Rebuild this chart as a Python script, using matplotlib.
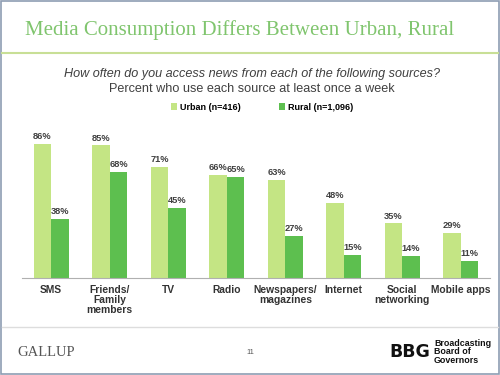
import matplotlib.pyplot as plt
import numpy as np
from matplotlib.patches import Rectangle
from matplotlib.lines import Line2D

plt.rcParams['font.family'] = ['Liberation Sans', 'DejaVu Sans']

# Datos del grafico
categorias = ['SMS', 'Friends/\nFamily\nmembers', 'TV', 'Radio',
              'Newspapers/\nmagazines', 'Internet', 'Social\nnetworking', 'Mobile apps']
urbano = [86, 85, 71, 66, 63, 48, 35, 29]
rural = [38, 68, 45, 65, 27, 15, 14, 11]
series = ['Urban (n=416)', 'Rural (n=1,096)']

verde_claro = '#c4e584'
verde = '#5dbf4f'
gris = '#404040'

fig = plt.figure(figsize=(5, 3.75), dpi=100)
fig.patch.set_facecolor('white')

# Marco de la diapositiva
fig.patches.append(Rectangle((0.002, 0.003), 0.996, 0.994, transform=fig.transFigure,
                             fill=False, edgecolor='#8d9db3', linewidth=1.2))

# Titulo y linea verde
fig.text(0.05, 1 - 30/375, 'Media Consumption Differs Between Urban, Rural',
         family='Liberation Serif', fontsize=15, color='#80c56e', va='center')
fig.lines.append(Line2D([0.004, 0.996], [1 - 53/375, 1 - 53/375], transform=fig.transFigure,
                        color='#c8df96', linewidth=1.5))

# Subtitulo
fig.text(0.503, 1 - 74/375, 'How often do you access news from each of the following sources?',
         fontsize=9.1, style='italic', color=gris, ha='center', va='center')
fig.text(0.503, 1 - 89/375, 'Percent who use each source at least once a week',
         fontsize=9.1, color=gris, ha='center', va='center')

# Ejes
ax = fig.add_axes([0.044, 1 - 278/375, 0.936, 156/375])
x = np.arange(len(categorias))
ancho = 0.3
b1 = ax.bar(x - ancho/2, urbano, ancho, color=verde_claro, label=series[0])
b2 = ax.bar(x + ancho/2, rural, ancho, color=verde, label=series[1])
ax.bar_label(b1, fmt='%d%%', fontsize=6.7, fontweight='bold', color=gris, padding=2)
ax.bar_label(b2, fmt='%d%%', fontsize=6.7, fontweight='bold', color=gris, padding=2)

ax.set_xlim(-0.5, 7.5)
ax.set_ylim(0, 100)
ax.set_xticks(x)
ax.set_xticklabels(categorias, fontsize=7.4, fontweight='bold', color='#333333', linespacing=1.0)
ax.tick_params(axis='x', length=0, pad=5)
ax.set_yticks([])
for lado in ['top', 'right', 'left']:
    ax.spines[lado].set_visible(False)
ax.spines['bottom'].set_color('#b0b0b0')
ax.set_facecolor('none')

fig.legend(handles=[b1, b2], labels=series, loc='center', bbox_to_anchor=(0.524, 1 - 107/375),
           ncol=2, frameon=False, handlelength=0.7, handleheight=0.7,
           handletextpad=0.3, columnspacing=4.2, prop={'weight': 'bold', 'size': 6.5})

# Pie de pagina
fig.lines.append(Line2D([0.004, 0.996], [1 - 327/375, 1 - 327/375], transform=fig.transFigure,
                        color='#dddddd', linewidth=1))
fig.text(0.034, 1 - 352/375, 'GALLUP', family='Liberation Serif', fontsize=10.5,
         color='#555555', va='center')
fig.text(0.5, 1 - 353/375, '11', fontsize=5.5, color='#555555', ha='center', va='center')
fig.text(0.778, 1 - 352/375, 'BBG', fontsize=12.5, fontweight='black', color='#111111',
         va='center', family='DejaVu Sans')
fig.text(0.868, 1 - 352/375, 'Broadcasting\nBoard of\nGovernors', fontsize=6.4,
         fontweight='bold', color='#111111', va='center', linespacing=0.95)

fig.savefig('out.png', dpi=100)
